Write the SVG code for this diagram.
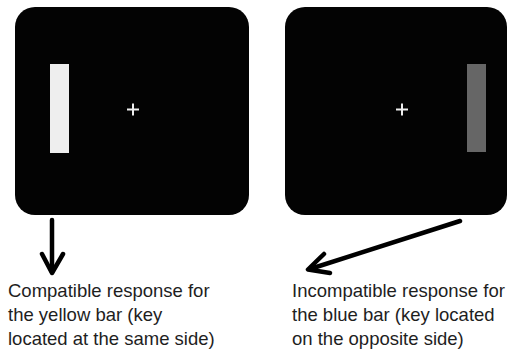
<svg xmlns="http://www.w3.org/2000/svg" width="516" height="354" viewBox="0 0 516 354">
  <style>
    .screen { fill: #030303; }
    .fix { stroke: #eeeeee; stroke-width: 2; }
    .label { font-family: "Liberation Sans", Arial, sans-serif; font-size: 18.5px; fill: #1e1e1e; }
    .conn { stroke: #000; stroke-width: 4.5; fill: none; stroke-linecap: round; }
    .head { stroke: #000; stroke-width: 4.5; fill: none; stroke-linecap: round; stroke-linejoin: round; }
  </style>
  <rect width="516" height="354" fill="#ffffff"/>

  <!-- compatible trial: bright bar on the left -->
  <g id="screen-compatible">
    <rect class="screen" x="15" y="7" width="234" height="208" rx="20" ry="20"/>
    <rect x="50" y="64" width="19" height="89" fill="#eeeeee"/>
    <path class="fix" d="M127 109.5h12M133 103.5v12"/>
  </g>

  <!-- incompatible trial: grey bar on the right -->
  <g id="screen-incompatible">
    <rect class="screen" x="285" y="7" width="222" height="208" rx="20" ry="20"/>
    <rect x="467" y="64" width="19" height="88" fill="#666666"/>
    <path class="fix" d="M396 109.5h12M402 103.5v12"/>
  </g>

  <g id="connectors">
    <path class="conn" d="M52 220V272"/>
    <path class="head" d="M42 254L52 273L63 254"/>
    <path class="conn" d="M460 221L310 269"/>
    <path class="head" d="M324 254L308 269.5L330 273"/>
  </g>

  <g id="caption-compatible">
    <text class="label" x="8" y="297">Compatible response for</text>
    <text class="label" x="8" y="321">the yellow bar (key</text>
    <text class="label" x="8" y="345">located at the same side)</text>
  </g>

  <g id="caption-incompatible">
    <text class="label" x="292" y="297">Incompatible response for</text>
    <text class="label" x="292" y="321">the blue bar (key located</text>
    <text class="label" x="292" y="345">on the opposite side)</text>
  </g>
</svg>
